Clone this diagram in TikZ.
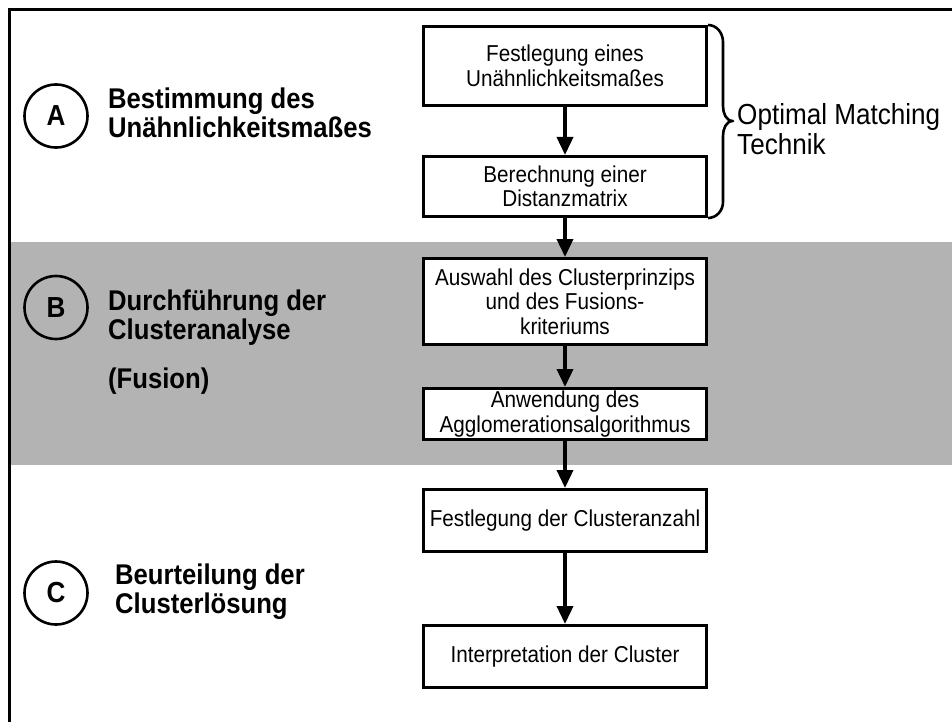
\documentclass[tikz,border=0pt]{standalone}
\usepackage{fontspec}
\setmainfont{Liberation Sans}
\newfontfamily\narrowsans{Liberation Sans}[FakeStretch=0.9]
\usetikzlibrary{arrows.meta}
\definecolor{bandgray}{RGB}{179,179,179}
\begin{document}
\begin{tikzpicture}[x=1pt,y=-1pt,
  stepbox/.style={draw, fill=white, line width=3pt, minimum width=283pt,
    inner sep=2pt, align=center, font=\narrowsans\fontsize{23}{24.5}\selectfont},
  flow/.style={line width=3.6pt, -{Triangle[length=18pt,width=16pt]}},
  phase/.style={circle, draw, line width=2.6pt, minimum size=63pt, inner sep=0pt,
    font=\narrowsans\bfseries\fontsize{29}{29}\selectfont},
  phasetext/.style={anchor=west, align=left, inner sep=0pt,
    font=\narrowsans\bfseries\fontsize{28.5}{29}\selectfont},
  brace/.style={line width=2.6pt, line join=round},
]
\useasboundingbox (0,0) rectangle (952,722);

% shaded band for phase B
\fill[bandgray] (9,242) rectangle (952,465);
% frame (top and left edges)
\draw[line width=3pt] (9,722) -- (9,9.5) -- (952,9.5);

% phase markers
\node[phase] (pA) at (56,116) {A};
\node[phase] (pB) at (56,307.5) {B};
\node[phase] (pC) at (56,593) {C};

\node[phasetext] (tA) at (108,113) {Bestimmung des\\Unähnlichkeitsmaßes};
\node[phasetext] (tB) at (108,342) {Durchführung der\\Clusteranalyse\\[20pt](Fusion)};
\node[phasetext] (tC) at (115,592) {Beurteilung der\\Clusterlösung};

% process steps
\node[stepbox, minimum height=79pt] (b1) at (565,66) {Festlegung eines\\Unähnlichkeitsmaßes};
\node[stepbox, minimum height=60pt] (b2) at (565,186.5) {Berechnung einer\\Distanzmatrix};
\node[stepbox, minimum height=86pt] (b3) at (565,301.5) {Auswahl des Clusterprinzips\\und des Fusions-\\kriteriums};
\node[stepbox, minimum height=51pt] (b4) at (565,414) {Anwendung des\\Agglomerationsalgorithmus};
\node[stepbox, minimum height=62pt] (b5) at (565,520.5) {Festlegung der Clusteranzahl};
\node[stepbox, minimum height=62pt] (b6) at (565,656.5) {Interpretation der Cluster};

\draw[flow] (b1) -- (b2);
\draw[flow] (b2) -- (b3);
\draw[flow] (b3) -- (b4);
\draw[flow] (b4) -- (b5);
\draw[flow] (b5) -- (b6);

% brace grouping the first two steps
\coordinate (bt) at (733,121);
\draw[brace] (b1.north east) to[out=0,in=90] (723,42) -- (723,106)
  to[out=-90,in=180] (bt) to[out=180,in=90] (723,136) -- (723,202)
  to[out=-90,in=0] (b2.south east);
\node[anchor=west, align=left, inner sep=0pt, font=\narrowsans\fontsize{29}{29.5}\selectfont]
  (om) at (737,129) {Optimal Matching\\Technik};
\end{tikzpicture}
\end{document}
